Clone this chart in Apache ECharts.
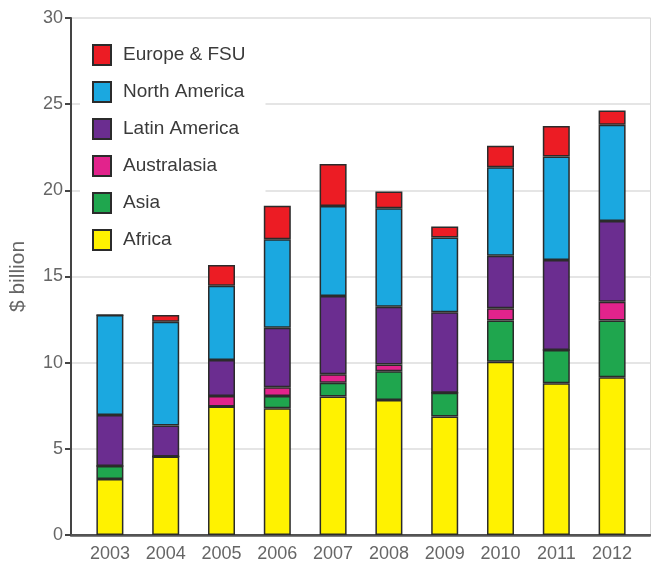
<!DOCTYPE html>
<html>
<head>
<meta charset="utf-8">
<script src="https://cdn.jsdelivr.net/npm/echarts@6/dist/echarts.min.js"></script>
<style>
  html, body { margin: 0; padding: 0; background: #fff; }
  #chart { width: 651px; height: 570px; }
</style>
</head>
<body>
<div id="chart"></div>
<script>
// years on the x axis
const years = ['2003', '2004', '2005', '2006', '2007', '2008', '2009', '2010', '2011', '2012'];
// $ billion per region, stacked bottom to top
const africa      = [3.25, 4.55, 7.45, 7.35, 8.03, 7.84, 6.87, 10.06, 8.80, 9.15];
const asia        = [0.75, 0.00, 0.00, 0.72, 0.81, 1.66, 1.39, 2.38, 1.94, 3.29];
const australasia = [0.00, 0.00, 0.62, 0.50, 0.49, 0.40, 0.00, 0.72, 0.00, 1.10];
const latinAm     = [2.96, 1.80, 2.09, 3.46, 4.54, 3.35, 4.67, 3.05, 5.22, 4.68];
const northAm     = [5.81, 6.03, 4.31, 5.13, 5.22, 5.71, 4.33, 5.13, 6.00, 5.58];
const europeFsu   = [0.00, 0.39, 1.20, 1.95, 2.44, 0.97, 0.64, 1.24, 1.78, 0.83];
const yTicks = { min: 0, max: 30, interval: 5 };

const regions = [
  { name: 'Africa', data: africa, color: '#fff200' },
  { name: 'Asia', data: asia, color: '#1fa64e' },
  { name: 'Australasia', data: australasia, color: '#e2238c' },
  { name: 'Latin America', data: latinAm, color: '#6b2d90' },
  { name: 'North America', data: northAm, color: '#1ba8e0' },
  { name: 'Europe & FSU', data: europeFsu, color: '#ec1c24' }
];

const chart = echarts.init(document.getElementById('chart'));

const option = {
  animation: false,
  textStyle: { fontFamily: 'Liberation Sans, Arial, sans-serif' },
  // grid 0 = frame with axes, grid 1 = bars
  grid: [
    { left: 67, right: 1, top: 18, bottom: 35 },
    { left: 82, right: 11, top: 18, bottom: 35 }
  ],
  legend: {
    orient: 'vertical',
    z: 1, // white box hides grid lines but sits under the bars
    left: 80,
    top: 36,
    padding: [8, 20, 12, 12],
    backgroundColor: '#fff',
    icon: 'rect',
    itemWidth: 18,
    itemHeight: 20,
    itemGap: 15,
    data: ['Europe & FSU', 'North America', 'Latin America', 'Australasia', 'Asia', 'Africa'],
    textStyle: { fontSize: 19, color: '#3a3a3a', padding: [0, 0, 0, 7] }
  },
  xAxis: [
    {
      gridIndex: 0, type: 'category', data: [''],
      axisLine: { lineStyle: { color: '#444', width: 2 } },
      axisTick: { show: false }, axisLabel: { show: false }
    },
    {
      gridIndex: 0, type: 'category', data: [''], position: 'top',
      axisLine: { lineStyle: { color: '#555', width: 2.5 } },
      axisTick: { show: false }, axisLabel: { show: false }
    },
    {
      gridIndex: 1, type: 'category', data: years,
      axisLine: { show: false }, axisTick: { show: false },
      axisLabel: { fontSize: 18, color: '#666', margin: 10 }
    }
  ],
  yAxis: [
    {
      gridIndex: 0, type: 'value', min: yTicks.min, max: yTicks.max, interval: yTicks.interval,
      name: '$ billion', nameLocation: 'middle', nameGap: 42,
      nameTextStyle: { fontSize: 21, color: '#666' },
      axisLine: { show: true, lineStyle: { color: '#444', width: 2 } },
      axisTick: { show: true, length: 6, lineStyle: { color: '#444', width: 2 } },
      axisLabel: { fontSize: 18, color: '#666', margin: 8 },
      splitLine: { lineStyle: { color: '#dcdcdc', width: 1.5 } }
    },
    {
      gridIndex: 0, type: 'value', position: 'right', min: yTicks.min, max: yTicks.max,
      axisLine: { show: true, lineStyle: { color: '#d8d8d8', width: 1 } },
      axisTick: { show: false }, axisLabel: { show: false }, splitLine: { show: false }
    },
    {
      gridIndex: 1, type: 'value', min: yTicks.min, max: yTicks.max, show: false
    }
  ],
  series: regions.map(r => ({
    name: r.name,
    type: 'bar',
    stack: 'total',
    xAxisIndex: 2,
    yAxisIndex: 2,
    barWidth: 27,
    data: r.data,
    itemStyle: { color: r.color, borderColor: '#2b2b2b', borderWidth: 1.5 }
  }))
};

chart.setOption(option);
</script>
</body>
</html>
